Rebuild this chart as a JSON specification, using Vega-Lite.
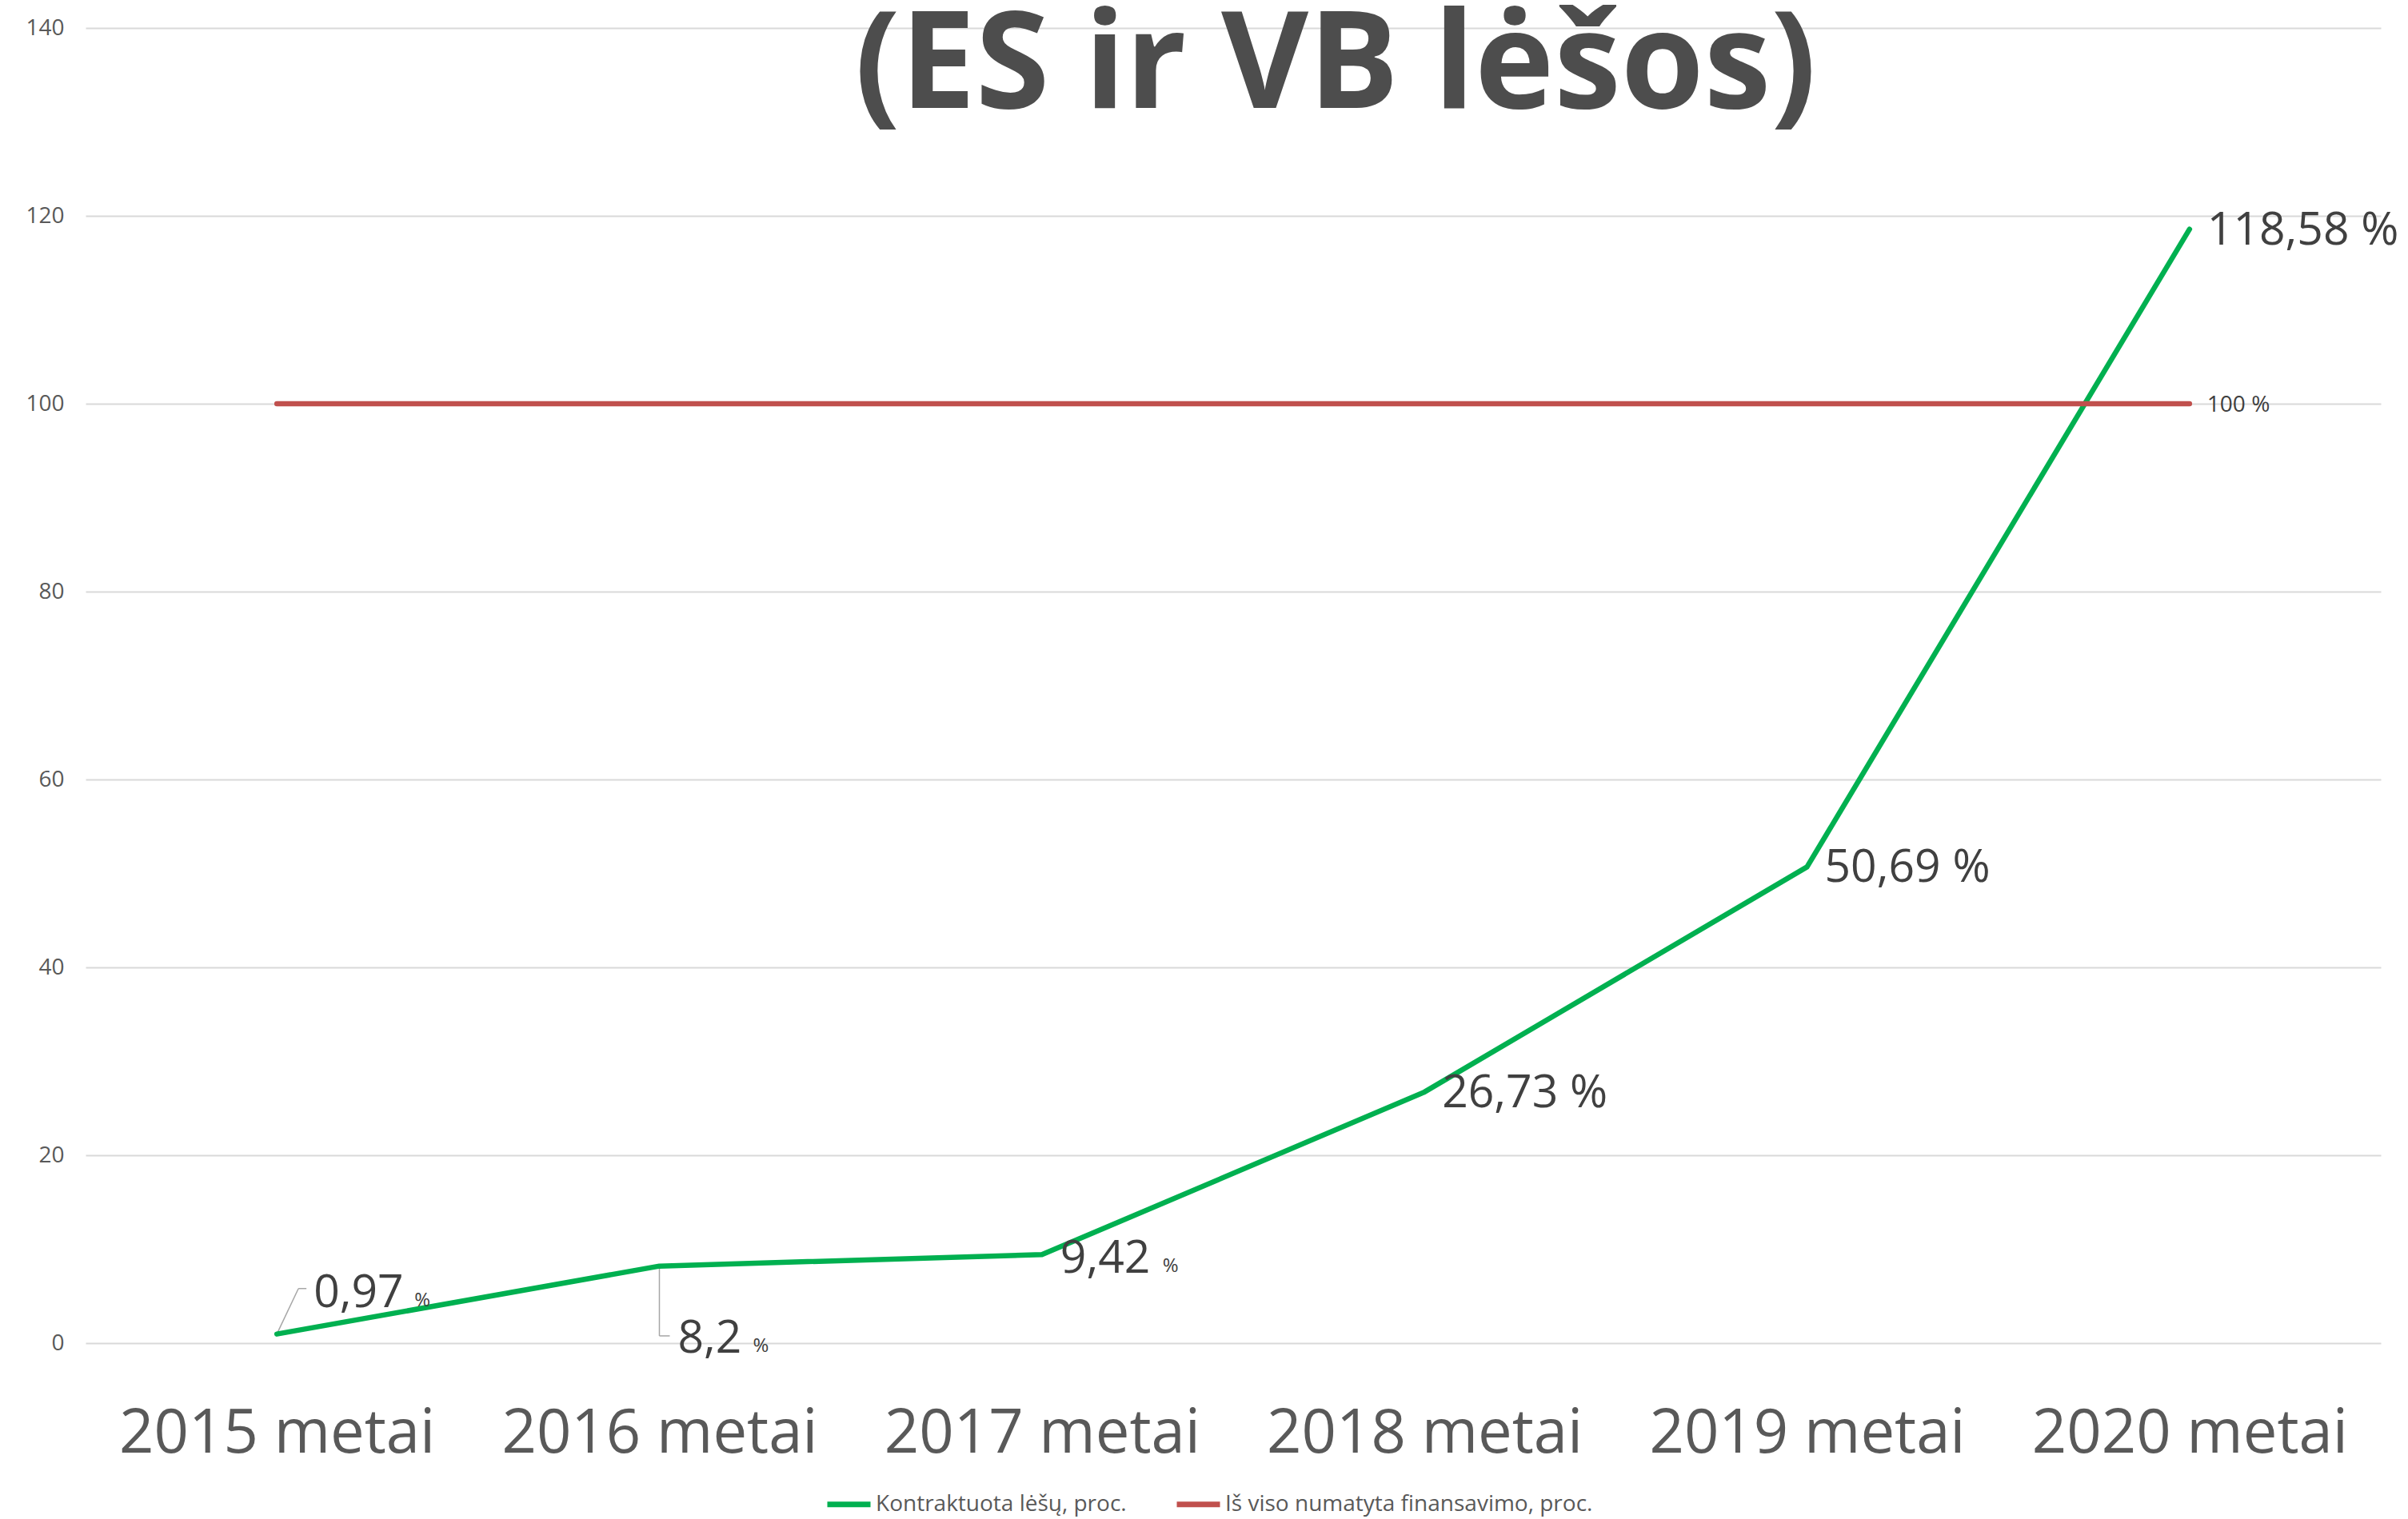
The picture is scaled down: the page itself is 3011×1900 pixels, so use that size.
{
  "$schema": "https://vega.github.io/schema/vega-lite/v6.json",
  "width": 2870,
  "height": 1645,
  "autosize": {"type": "none"},
  "padding": {"left": 107, "top": 35, "right": 34, "bottom": 220},
  "background": "white",
  "config": {"view": {"stroke": null}, "font": "Open Sans"},
  "title": {
    "text": "(ES ir VB lėšos)",
    "font": "Open Sans",
    "fontSize": 168,
    "fontWeight": "bold",
    "color": "#4d4d4d",
    "anchor": "middle",
    "frame": "group",
    "baseline": "alphabetic",
    "offset": 0,
    "dx": 128,
    "dy": 282
  },
  "data": {
    "values": [
      {"metai": "2015 metai", "serija": "Kontraktuota lėšų, proc.", "reiksme": 0.97},
      {"metai": "2016 metai", "serija": "Kontraktuota lėšų, proc.", "reiksme": 8.2},
      {"metai": "2017 metai", "serija": "Kontraktuota lėšų, proc.", "reiksme": 9.42},
      {"metai": "2018 metai", "serija": "Kontraktuota lėšų, proc.", "reiksme": 26.73},
      {"metai": "2019 metai", "serija": "Kontraktuota lėšų, proc.", "reiksme": 50.69},
      {"metai": "2020 metai", "serija": "Kontraktuota lėšų, proc.", "reiksme": 118.58},
      {"metai": "2015 metai", "serija": "Iš viso numatyta finansavimo, proc.", "reiksme": 100},
      {"metai": "2016 metai", "serija": "Iš viso numatyta finansavimo, proc.", "reiksme": 100},
      {"metai": "2017 metai", "serija": "Iš viso numatyta finansavimo, proc.", "reiksme": 100},
      {"metai": "2018 metai", "serija": "Iš viso numatyta finansavimo, proc.", "reiksme": 100},
      {"metai": "2019 metai", "serija": "Iš viso numatyta finansavimo, proc.", "reiksme": 100},
      {"metai": "2020 metai", "serija": "Iš viso numatyta finansavimo, proc.", "reiksme": 100}
    ]
  },
  "transform": [
    {"calculate": "replace(toString(datum.reiksme), '.', ',')", "as": "lbl"}
  ],
  "encoding": {
    "x": {
      "field": "metai",
      "type": "nominal",
      "sort": null,
      "scale": {"type": "point", "padding": 0.5},
      "axis": {
        "title": null,
        "labelAngle": 0,
        "labelFontSize": 76,
        "labelColor": "#595959",
        "labelFont": "Open Sans",
        "labelLimit": 0,
        "ticks": false,
        "domain": false,
        "grid": false,
        "labelPadding": 76
      }
    },
    "y": {
      "field": "reiksme",
      "type": "quantitative",
      "scale": {"domain": [0, 140], "nice": false},
      "axis": {
        "title": null,
        "values": [0, 20, 40, 60, 80, 100, 120, 140],
        "labelFontSize": 28,
        "labelColor": "#595959",
        "labelFont": "Open Sans",
        "ticks": false,
        "domain": false,
        "gridColor": "#d9d9d9",
        "gridWidth": 2,
        "labelPadding": 27
      }
    }
  },
  "layer": [
    {
      "mark": {"type": "rule", "color": "#a6a6a6", "strokeWidth": 1.5, "x2Offset": 27},
      "transform": [{"filter": "datum.metai == '2015 metai' && datum.reiksme < 50"}],
      "encoding": {"x2": {"field": "metai"}, "y2": {"datum": 5.81}}
    },
    {
      "mark": {"type": "rule", "color": "#a6a6a6", "strokeWidth": 1.5, "xOffset": 27, "x2Offset": 37},
      "transform": [{"filter": "datum.metai == '2015 metai' && datum.reiksme < 50"}],
      "encoding": {"x2": {"field": "metai"}, "y": {"datum": 5.81}}
    },
    {
      "mark": {"type": "rule", "color": "#a6a6a6", "strokeWidth": 1.5},
      "transform": [{"filter": "datum.metai == '2016 metai' && datum.reiksme < 50"}],
      "encoding": {"y2": {"datum": 0.77}}
    },
    {
      "mark": {"type": "rule", "color": "#a6a6a6", "strokeWidth": 1.5, "x2Offset": 13},
      "transform": [{"filter": "datum.metai == '2016 metai' && datum.reiksme < 50"}],
      "encoding": {"x2": {"field": "metai"}, "y": {"datum": 0.77}}
    },
    {
      "mark": {"type": "line", "strokeWidth": 6.5, "strokeCap": "round", "strokeJoin": "round"},
      "encoding": {
        "color": {
          "field": "serija",
          "type": "nominal",
          "scale": {
            "domain": ["Kontraktuota lėšų, proc.", "Iš viso numatyta finansavimo, proc."],
            "range": ["#00b050", "#c0504d"]
          },
          "legend": {
            "title": null,
            "orient": "none",
            "direction": "horizontal",
            "legendX": 924,
            "legendY": 1816,
            "symbolType": "stroke",
            "symbolSize": 2916,
            "symbolStrokeWidth": 7,
            "labelFontSize": 28,
            "labelFont": "Open Sans",
            "labelColor": "#595959",
            "labelLimit": 0,
            "labelOffset": 3,
            "columnPadding": 48
          }
        }
      }
    },
    {
      "mark": {"type": "text", "align": "left", "baseline": "middle", "dx": 22, "dy": 2, "fontSize": 57, "color": "#404040", "font": "Open Sans"},
      "transform": [
        {"filter": "datum.reiksme > 20 && datum.reiksme != 100"},
        {"calculate": "datum.lbl + ' %'", "as": "lbl_pct"}
      ],
      "encoding": {"text": {"field": "lbl_pct"}}
    },
    {
      "mark": {"type": "text", "align": "left", "baseline": "middle", "dx": 22, "dy": 2, "fontSize": 28, "color": "#404040", "font": "Open Sans"},
      "transform": [{"filter": "datum.reiksme == 100 && datum.metai == '2020 metai'"}],
      "encoding": {"text": {"value": "100 %"}}
    },
    {
      "mark": {"type": "text", "align": "left", "baseline": "alphabetic", "dx": 23, "dy": 23, "fontSize": 57, "color": "#404040", "font": "Open Sans"},
      "transform": [{"filter": "datum.metai == '2017 metai' && datum.reiksme < 50"}],
      "encoding": {"text": {"field": "lbl"}}
    },
    {
      "mark": {"type": "text", "align": "left", "baseline": "alphabetic", "dx": 151, "dy": 22, "fontSize": 24, "color": "#404040", "font": "Open Sans"},
      "transform": [{"filter": "datum.metai == '2017 metai' && datum.reiksme < 50"}],
      "encoding": {"text": {"value": "%"}}
    },
    {
      "mark": {"type": "text", "align": "left", "baseline": "alphabetic", "dx": 46, "dy": -34, "fontSize": 57, "color": "#404040", "font": "Open Sans"},
      "transform": [{"filter": "datum.metai == '2015 metai' && datum.reiksme < 50"}],
      "encoding": {"text": {"field": "lbl"}}
    },
    {
      "mark": {"type": "text", "align": "left", "baseline": "alphabetic", "dx": 172, "dy": -35, "fontSize": 24, "color": "#404040", "font": "Open Sans"},
      "transform": [{"filter": "datum.metai == '2015 metai' && datum.reiksme < 50"}],
      "encoding": {"text": {"value": "%"}}
    },
    {
      "mark": {"type": "text", "align": "left", "baseline": "alphabetic", "dx": 23, "dy": 108, "fontSize": 57, "color": "#404040", "font": "Open Sans"},
      "transform": [{"filter": "datum.metai == '2016 metai' && datum.reiksme < 50"}],
      "encoding": {"text": {"field": "lbl"}}
    },
    {
      "mark": {"type": "text", "align": "left", "baseline": "alphabetic", "dx": 117, "dy": 107, "fontSize": 24, "color": "#404040", "font": "Open Sans"},
      "transform": [{"filter": "datum.metai == '2016 metai' && datum.reiksme < 50"}],
      "encoding": {"text": {"value": "%"}}
    }
  ]
}
